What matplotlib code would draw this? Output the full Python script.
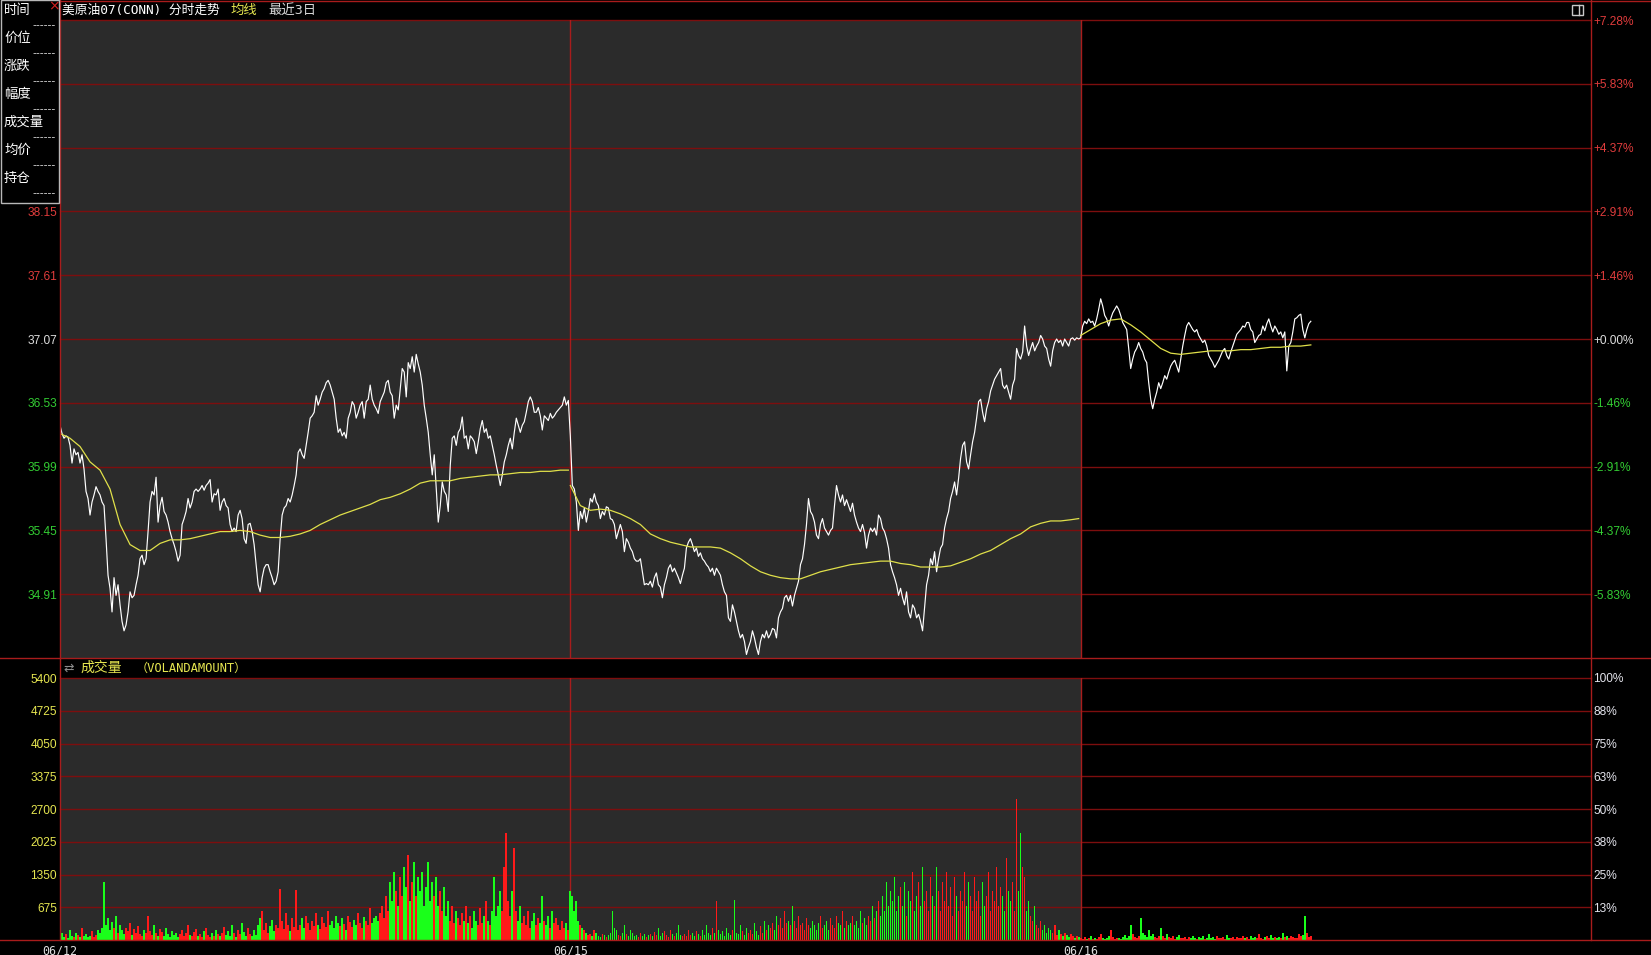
import numpy as np
import matplotlib
matplotlib.use('Agg')
import matplotlib.pyplot as plt
from matplotlib.patches import Rectangle

# ---------------- data ----------------
DATES = ['06/12', '06/15', '06/16']
INFO_LABELS = ['时间', '价位', '涨跌', '幅度', '成交量', '均价', '持仓']
TITLE_MAIN = '美原油07(CONN) 分时走势'
TITLE_AVG = '均线'
TITLE_RANGE = '最近3日'
VOL_TITLE = '成交量'
VOL_SUB = '（VOLANDAMOUNT）'

BASE_PRICE = 37.07
PRICE_LEVELS = [39.77, 39.23, 38.69, 38.15, 37.61, 37.07, 36.53, 35.99, 35.45, 34.91, 34.37]
PRICE_LEFT_LABELS = ['38.15', '37.61', '37.07', '36.53', '35.99', '35.45', '34.91']
PCT_LABELS = ['+7.28%', '+5.83%', '+4.37%', '+2.91%', '+1.46%', '+0.00%',
              '-1.46%', '-2.91%', '-4.37%', '-5.83%']
VOL_LEVELS = [675, 1350, 2025, 2700, 3375, 4050, 4725, 5400]
VOL_PCT_LABELS = ['13%', '25%', '38%', '50%', '63%', '75%', '88%', '100%']

PRICE_D1 = [
    36.34, 36.27, 36.23, 36.25, 36.24, 36.17, 36.02, 36.14, 36.09, 36.11,
    36.02, 36.09, 35.97, 35.78, 35.72, 35.58, 35.69, 35.75, 35.82, 35.78,
    35.75, 35.69, 35.66, 35.38, 35.07, 34.96, 34.76, 35.05, 34.90, 34.99,
    34.82, 34.68, 34.60, 34.65, 34.76, 34.93, 34.88, 34.90, 34.99, 35.07,
    35.21, 35.24, 35.16, 35.21, 35.44, 35.69, 35.78, 35.75, 35.90, 35.52,
    35.66, 35.73, 35.61, 35.58, 35.52, 35.44, 35.38, 35.33, 35.27, 35.19,
    35.24, 35.50, 35.55, 35.61, 35.72, 35.64, 35.69, 35.78, 35.80, 35.78,
    35.80, 35.83, 35.79, 35.83, 35.85, 35.88, 35.69, 35.76, 35.75, 35.80,
    35.62, 35.69, 35.72, 35.66, 35.64, 35.50, 35.44, 35.47, 35.44, 35.58,
    35.62, 35.55, 35.38, 35.34, 35.50, 35.51, 35.44, 35.33, 35.16, 34.99,
    34.93, 35.05, 35.13, 35.16, 35.16, 35.10, 35.05, 34.99, 35.02, 35.10,
    35.38, 35.58, 35.64, 35.66, 35.72, 35.69, 35.75, 35.83, 35.92, 36.11,
    36.14, 36.09, 36.06, 36.17, 36.28, 36.40, 36.42, 36.45, 36.59, 36.51,
    36.56, 36.62, 36.65, 36.70, 36.72, 36.68, 36.62, 36.56, 36.40, 36.28,
    36.31, 36.25, 36.28, 36.23, 36.40, 36.45, 36.54, 36.51, 36.40, 36.45,
    36.51, 36.54, 36.40, 36.54, 36.56, 36.68, 36.56, 36.51, 36.48, 36.44,
    36.54, 36.58, 36.62, 36.70, 36.72, 36.62, 36.59, 36.40, 36.51, 36.47,
    36.65, 36.82, 36.79, 36.58, 36.87, 36.82, 36.92, 36.79, 36.94, 36.86,
    36.79, 36.68, 36.51, 36.40, 36.28, 36.09, 35.92, 36.09, 35.80, 35.52,
    35.66, 35.86, 35.78, 35.75, 35.61, 36.00, 36.23, 36.25, 36.17, 36.28,
    36.31, 36.41, 36.23, 36.25, 36.14, 36.25, 36.23, 36.20, 36.10, 36.20,
    36.31, 36.38, 36.28, 36.31, 36.23, 36.25, 36.17, 36.09, 36.00, 35.92,
    35.83, 35.92, 36.03, 36.09, 36.17, 36.23, 36.14, 36.28, 36.40, 36.34,
    36.28, 36.34, 36.37, 36.45, 36.54, 36.58, 36.54, 36.45, 36.45, 36.49,
    36.42, 36.30, 36.42, 36.40, 36.38, 36.44, 36.40, 36.42, 36.45, 36.47,
    36.49, 36.51, 36.58, 36.51, 36.55]

PRICE_D2 = [
    36.25, 35.83, 35.80, 35.69, 35.45, 35.61, 35.55, 35.64, 35.52, 35.61,
    35.72, 35.69, 35.76, 35.69, 35.66, 35.55, 35.61, 35.58, 35.65, 35.64,
    35.55, 35.54, 35.50, 35.38, 35.44, 35.50, 35.44, 35.27, 35.38, 35.35,
    35.30, 35.27, 35.21, 35.19, 35.19, 35.21, 35.10, 34.99, 35.00, 34.99,
    35.02, 34.97, 35.05, 35.09, 34.99, 34.97, 34.88, 34.99, 35.05, 35.13,
    35.16, 35.10, 35.13, 35.09, 35.05, 35.00, 35.07, 35.13, 35.30, 35.35,
    35.38, 35.33, 35.27, 35.30, 35.23, 35.26, 35.21, 35.19, 35.16, 35.14,
    35.10, 35.13, 35.07, 35.13, 35.10, 35.07, 34.99, 34.93, 34.90, 34.71,
    34.68, 34.82, 34.76, 34.68, 34.60, 34.54, 34.57, 34.51, 34.40, 34.46,
    34.51, 34.60, 34.54, 34.46, 34.40, 34.51, 34.57, 34.54, 34.60, 34.54,
    34.57, 34.62, 34.61, 34.54, 34.71, 34.76, 34.79, 34.88, 34.90, 34.85,
    34.90, 34.81, 34.90, 34.96, 35.02, 35.16, 35.21, 35.33, 35.50, 35.72,
    35.61, 35.58, 35.52, 35.41, 35.38, 35.50, 35.55, 35.47, 35.44, 35.41,
    35.45, 35.47, 35.66, 35.83, 35.75, 35.69, 35.75, 35.66, 35.71, 35.66,
    35.61, 35.68, 35.58, 35.52, 35.47, 35.44, 35.50, 35.43, 35.30, 35.41,
    35.47, 35.44, 35.47, 35.41, 35.58, 35.55, 35.47, 35.44, 35.38, 35.30,
    35.16, 35.10, 35.05, 34.99, 34.90, 34.96, 34.88, 34.82, 34.93, 34.76,
    34.71, 34.82, 34.79, 34.71, 34.74, 34.68, 34.60, 34.79, 34.99, 35.07,
    35.21, 35.16, 35.27, 35.10, 35.21, 35.30, 35.33, 35.47, 35.55, 35.61,
    35.72, 35.78, 35.86, 35.75, 35.89, 36.06, 36.17, 36.20, 36.03, 35.97,
    36.09, 36.20, 36.28, 36.40, 36.54, 36.56, 36.45, 36.37, 36.48, 36.54,
    36.63, 36.68, 36.73, 36.76, 36.79, 36.82, 36.68, 36.65, 36.68, 36.62,
    36.56, 36.68, 36.73, 36.99, 36.93, 36.90, 36.96, 37.18, 37.01, 36.93,
    36.99, 37.04, 36.97, 37.01, 37.04, 37.10, 37.07, 37.01, 36.99, 36.90,
    36.84, 36.97, 37.04, 37.07, 37.04, 37.06, 37.01, 37.07, 37.04, 37.01,
    37.07, 37.08, 37.06, 37.08, 37.07]

PRICE_D3 = [
    37.08, 37.18, 37.22, 37.20, 37.24, 37.21, 37.22, 37.18, 37.24, 37.32,
    37.41, 37.35, 37.27, 37.24, 37.18, 37.24, 37.29, 37.32, 37.35, 37.32,
    37.27, 37.21, 37.18, 37.15, 36.99, 36.82, 36.90, 36.96, 36.99, 37.04,
    36.99, 36.96, 36.90, 36.87, 36.70, 36.56, 36.48, 36.56, 36.62, 36.70,
    36.65, 36.70, 36.76, 36.73, 36.79, 36.84, 36.87, 36.89, 36.84, 36.79,
    36.90, 37.01, 37.10, 37.18, 37.21, 37.18, 37.15, 37.13, 37.15, 37.10,
    37.07, 37.04, 37.06, 37.01, 36.93, 36.90, 36.87, 36.83, 36.86, 36.89,
    36.93, 36.97, 36.99, 36.93, 36.90, 36.96, 37.01, 37.06, 37.11, 37.13,
    37.15, 37.18, 37.17, 37.21, 37.21, 37.15, 37.13, 37.04, 37.07, 37.10,
    37.11, 37.18, 37.14, 37.20, 37.24, 37.18, 37.13, 37.18, 37.15, 37.11,
    37.13, 37.08, 37.13, 36.80, 37.01, 37.04, 37.13, 37.24, 37.25, 37.27,
    37.28, 37.15, 37.08, 37.15, 37.20, 37.22]

# average price line, sampled every 5 points (last sample at the day's last point)
AVG_STEP = 5
AVG_D1 = [
    36.27, 36.23, 36.16, 36.03, 35.96, 35.80, 35.50, 35.33, 35.28, 35.28,
    35.34, 35.37, 35.37, 35.38, 35.40, 35.42, 35.44, 35.44, 35.45, 35.44,
    35.41, 35.39, 35.39, 35.40, 35.42, 35.45, 35.50, 35.54, 35.58, 35.61,
    35.64, 35.67, 35.71, 35.73, 35.76, 35.80, 35.85, 35.87, 35.87, 35.87,
    35.89, 35.90, 35.91, 35.92, 35.92, 35.93, 35.94, 35.94, 35.95, 35.95,
    35.96, 35.96]
AVG_D2 = [
    35.83, 35.66, 35.62, 35.63, 35.62, 35.59, 35.55, 35.50, 35.42, 35.38,
    35.35, 35.33, 35.31, 35.31, 35.31, 35.30, 35.26, 35.21, 35.15, 35.10,
    35.07, 35.05, 35.04, 35.04, 35.07, 35.10, 35.12, 35.14, 35.16, 35.17,
    35.18, 35.19, 35.19, 35.17, 35.16, 35.14, 35.14, 35.14, 35.15, 35.18,
    35.21, 35.25, 35.28, 35.33, 35.38, 35.42, 35.48, 35.51, 35.53, 35.53,
    35.54, 35.55]
AVG_D3 = [
    37.10, 37.15, 37.20, 37.23, 37.24, 37.19, 37.13, 37.06, 36.99, 36.95,
    36.94, 36.95, 36.96, 36.97, 36.97, 36.97, 36.98, 36.98, 36.99, 37.00,
    37.00, 37.01, 37.01, 37.02]

VOL_D1 = [
    80, 150, 60, 120, 40, 200, 90, 60, 150, 100, 70, 250, 80, 130, 60, 90, 180, 70, 110, 200,
    150, 250, 1200, 300, 450, 200, 380, 250, 500, 150, 300, 200, 120, 250, 180, 350, 100, 220, 150, 280,
    120, 90, 200, 150, 500, 180, 100, 300, 140, 80, 220, 160, 90, 250, 130, 70, 180, 100, 150, 60,
    120, 200, 90, 140, 300, 110, 80, 160, 220, 90, 130, 70, 180, 250, 100, 60, 150, 90, 200, 120,
    80, 140, 260, 100, 180, 90, 300, 150, 70, 200, 120, 350, 160, 90, 250, 130, 80, 200, 110, 300,
    450, 600, 200, 350, 150, 280, 420, 180, 300, 250, 1050, 400, 220, 550, 300, 180, 450, 260, 1040, 200,
    300, 450, 250, 500, 350, 200, 400, 280, 550, 300, 220, 480, 350, 260, 600, 300, 400, 250, 500, 350,
    280, 450, 320, 200, 500, 380, 260, 420, 300, 550, 350, 250, 480, 400, 300, 650, 350, 450, 500, 400,
    550, 700, 450, 900, 600, 1200, 800, 1400, 1000, 700, 1300, 900, 1500, 1100, 1750, 800, 1200, 1600, 900, 1300,
    1000, 1400, 700, 1100, 1600, 800, 1200, 900, 1300, 700, 1000, 600, 1100, 500, 800, 400, 700, 350, 600, 450,
    300, 550, 400, 700, 350, 500, 250, 600, 400, 300, 650, 350, 500, 800, 400, 300, 600, 1300, 500, 700,
    1000, 600, 1500, 2200, 800, 500, 1000, 1900, 600, 400, 700, 350, 500, 300, 600, 250, 400, 550, 300, 450,
    350, 900, 400, 300, 500, 250, 600, 350, 450, 300, 200, 400, 250, 350, 200]

VOL_D2 = [
    1000, 900, 600, 800, 400, 300, 250, 200, 150, 100, 120, 80, 200, 150, 90, 60, 130, 100, 70, 110,
    150, 600, 250, 200, 100, 80, 150, 300, 120, 90, 200, 140, 80, 110, 60, 150, 90, 130, 70, 100,
    120, 80, 160, 100, 250, 90, 140, 180, 100, 70, 200, 120, 90, 150, 300, 110, 80, 130, 90, 200,
    100, 150, 80, 180, 120, 90, 200, 110, 300, 150, 100, 250, 140, 800, 200, 120, 180, 90, 250, 150,
    100, 200, 830, 150, 120, 300, 180, 100, 250, 150, 200, 120, 350, 180, 100, 280, 150, 400, 200, 300,
    250, 350, 200, 500, 300, 450, 250, 600, 350, 400, 300, 700, 400, 250, 500, 300, 350, 200, 450, 300,
    250, 400, 300, 200, 350, 500, 250, 300, 400, 200, 450, 300, 250, 500, 350, 300, 600, 250, 400, 300,
    350, 500, 300, 400, 250, 600, 350, 450, 300, 500, 400, 700, 450, 600, 800, 500, 900, 600, 1200, 700,
    1000, 800, 1300, 600, 900, 1100, 700, 1200, 500, 1000, 800, 1400, 600, 900, 1200, 700, 1500, 800, 1000, 600,
    1300, 900, 700, 1500, 1000, 600, 1200, 800, 1400, 700, 1100, 500, 1300, 900, 600, 1000, 800, 1400, 700, 1200,
    900, 600, 1300, 800, 1000, 500, 1200, 700, 900, 1400, 600, 1000, 800, 1500, 700, 1100, 900, 600, 1700, 1000,
    800, 1200, 600, 2900, 1000, 2200, 1500, 1300, 600, 800, 500, 400, 700, 300, 250, 400, 200, 300, 150, 250,
    200, 150, 300, 100, 200, 120, 80, 150, 100, 60, 120, 90, 50, 80, 60]

VOL_D3 = [
    40, 30, 60, 20, 50, 80, 30, 40, 25, 60, 120, 40, 30, 50, 80, 200, 60, 30, 50, 40,
    30, 60, 100, 40, 80, 300, 120, 60, 40, 80, 450, 150, 100, 60, 200, 80, 120, 60, 40, 90,
    250, 80, 50, 120, 60, 40, 80, 30, 60, 100, 50, 40, 70, 30, 60, 40, 90, 50, 30, 60,
    40, 80, 30, 50, 120, 40, 60, 30, 80, 50, 40, 60, 30, 100, 50, 40, 70, 30, 60, 40,
    50, 80, 40, 60, 30, 90, 40, 60, 50, 120, 40, 30, 60, 80, 40, 100, 50, 60, 40, 70,
    50, 150, 60, 90, 40, 80, 60, 50, 40, 120, 80, 100, 500, 150, 60, 80]

# ---------------- style ----------------
W, H = 1651, 955
SLOTS = 255
BG_GRAY = '#2b2b2b'
GRID_RED = '#7d0e0e'
AXIS_RED = '#a81c1c'
UP_RED = '#e03c3c'
DOWN_GREEN = '#33cc33'
FLAT_WHITE = '#dedede'
YELLOW = '#e0e04a'
BAR_RED = '#ff1a1a'
BAR_GREEN = '#1aff1a'
CJK = ['Noto Sans CJK SC', 'DejaVu Sans']
MONO_CJK = ['DejaVu Sans Mono', 'Noto Sans CJK SC']

plt.rcParams['font.family'] = ['Liberation Sans', 'Noto Sans CJK SC', 'DejaVu Sans']

fig = plt.figure(figsize=(W / 100, H / 100), dpi=100, facecolor='black')


def rect(l, t, r, b):
    return [l / W, 1 - b / H, (r - l) / W, (b - t) / H]


ax_p = fig.add_axes(rect(60, 20, 1591, 658))
ax_v = fig.add_axes(rect(60, 678, 1591, 940))

days = [(PRICE_D1, AVG_D1, VOL_D1, True),
        (PRICE_D2, AVG_D2, VOL_D2, True),
        (PRICE_D3, AVG_D3, VOL_D3, False)]

xs_all, ps_all, vs_all = [], [], []
avg_sets = []
for d, (pr, av, vo, full) in enumerate(days):
    n = min(len(pr), len(vo))
    step = SLOTS / len(pr) if full else 1.0
    x = d * SLOTS + np.arange(n) * step
    xs_all.append(x)
    ps_all.append(np.asarray(pr[:n], float))
    vs_all.append(np.asarray(vo[:n], float))
    aidx = np.minimum(np.arange(len(av)) * AVG_STEP, len(pr) - 1)
    avg_sets.append((d * SLOTS + aidx * step, np.asarray(av, float)))

x_all = np.concatenate(xs_all)
p_all = np.concatenate(ps_all)
v_all = np.concatenate(vs_all)
diff = np.diff(p_all, prepend=p_all[0])
bar_colors = [BAR_RED if dv >= 0 else BAR_GREEN for dv in diff]

# ---------- price panel ----------
ax_p.set_facecolor('black')
ax_p.set_xlim(0, 3 * SLOTS)
ax_p.set_ylim(PRICE_LEVELS[-1], PRICE_LEVELS[0])
ax_p.axvspan(0, 2 * SLOTS, color=BG_GRAY, lw=0, zorder=0)
for lv in PRICE_LEVELS[:-1]:
    ax_p.axhline(lv, color=GRID_RED, lw=1.0, zorder=1, clip_on=False)
for xv in (SLOTS, 2 * SLOTS):
    ax_p.axvline(xv, color=AXIS_RED, lw=1.0, zorder=1)
ax_p.plot(x_all, p_all, color='white', lw=0.85, zorder=4)
for ax_x, av in avg_sets:
    ax_p.plot(ax_x, av, color=YELLOW, lw=0.9, zorder=5)

for s in ax_p.spines.values():
    s.set_visible(False)
ax_p.set_xticks([])


def lvl_color(v):
    if abs(v - BASE_PRICE) < 1e-6:
        return FLAT_WHITE
    return UP_RED if v > BASE_PRICE else DOWN_GREEN


left_levels = [float(t) for t in PRICE_LEFT_LABELS]
ax_p.set_yticks(left_levels)
ax_p.set_yticklabels(PRICE_LEFT_LABELS)
ax_p.tick_params(axis='y', length=0, pad=2.2, labelsize=8.6)
for lbl, v in zip(ax_p.get_yticklabels(), left_levels):
    lbl.set_color(lvl_color(v))

ax_pr = ax_p.twinx()
ax_pr.set_ylim(ax_p.get_ylim())
ax_pr.set_yticks(PRICE_LEVELS[:len(PCT_LABELS)])
ax_pr.set_yticklabels(PCT_LABELS)
ax_pr.tick_params(axis='y', length=0, pad=1.5, labelsize=8.6)
for lbl, v in zip(ax_pr.get_yticklabels(), PRICE_LEVELS):
    lbl.set_color(lvl_color(v))
for s in ax_pr.spines.values():
    s.set_visible(False)

# ---------- volume panel ----------
ax_v.set_facecolor('black')
ax_v.set_xlim(0, 3 * SLOTS)
ax_v.set_ylim(0, VOL_LEVELS[-1])
ax_v.axvspan(0, 2 * SLOTS, color=BG_GRAY, lw=0, zorder=0)
for lv in VOL_LEVELS:
    ax_v.axhline(lv, color=GRID_RED, lw=1.0, zorder=1, clip_on=False)
for xv in (SLOTS, 2 * SLOTS):
    ax_v.axvline(xv, color=AXIS_RED, lw=1.0, zorder=1)
ax_v.bar(x_all, v_all, width=0.85, color=bar_colors, lw=0, zorder=3)
for s in ax_v.spines.values():
    s.set_visible(False)

ax_v.set_yticks(VOL_LEVELS)
ax_v.set_yticklabels([str(v) for v in VOL_LEVELS])
ax_v.tick_params(axis='y', length=0, pad=2.2, labelsize=8.6, labelcolor='#e6e650')
ax_v.set_xticks([0, SLOTS, 2 * SLOTS])
ax_v.set_xticklabels(DATES)
ax_v.tick_params(axis='x', length=0, pad=3.0, labelsize=8.4, labelcolor='#e0e0e0')
for lbl in ax_v.get_xticklabels():
    lbl.set_family('DejaVu Sans Mono')

ax_vr = ax_v.twinx()
ax_vr.set_ylim(ax_v.get_ylim())
ax_vr.set_yticks(VOL_LEVELS)
ax_vr.set_yticklabels(VOL_PCT_LABELS)
ax_vr.tick_params(axis='y', length=0, pad=1.5, labelsize=8.6, labelcolor='#e4e4ec')
for s in ax_vr.spines.values():
    s.set_visible(False)

# ---------- overlay (pixel coordinates) ----------
ov = fig.add_axes([0, 0, 1, 1])
ov.set_xlim(0, W)
ov.set_ylim(H, 0)
ov.axis('off')
ov.patch.set_alpha(0)

# frame lines
ov.plot([60, W], [0.8, 0.8], color=AXIS_RED, lw=1.0)
ov.plot([0, W], [658, 658], color=AXIS_RED, lw=1.0)
ov.plot([0, W], [940, 940], color=AXIS_RED, lw=1.0)
ov.plot([60, 60], [0, 940], color=AXIS_RED, lw=1.0)
ov.plot([1591, 1591], [0, 940], color=AXIS_RED, lw=1.0)

# info box
ov.add_patch(Rectangle((0.5, 0.5), 58.8, 202.2, facecolor='black',
                       edgecolor='#b8b8b8', lw=1.0, zorder=5))
label_y = [10, 38, 66, 94, 122, 150, 178]
for lab, y in zip(INFO_LABELS, label_y):
    ov.text(4, y, lab, color='white', fontsize=9.6, family=CJK,
            ha='left', va='center', zorder=6)
    ov.text(56, y + 15, '------', color='#d8d8d8', fontsize=7.8,
            family='DejaVu Sans', ha='right', va='center', zorder=6)
ov.text(54, 6.5, '×', color='#d02020', fontsize=10, family='DejaVu Sans',
        ha='center', va='center', zorder=7)

# title
ov.text(62, 10, TITLE_MAIN, color='white', fontsize=9.2, family=MONO_CJK,
        ha='left', va='center')
ov.text(230, 10, TITLE_AVG, color='#e6e650', fontsize=9.6, family=CJK,
        ha='left', va='center')
ov.text(268, 10, TITLE_RANGE, color='#d6d6d6', fontsize=9.6, family=MONO_CJK,
        ha='left', va='center')

# top-right icon
ov.add_patch(Rectangle((1571.5, 5.5), 11, 10, facecolor='none',
                       edgecolor='#c8c8c8', lw=1.0))
ov.plot([1579, 1579], [5.5, 15.5], color='#c8c8c8', lw=1.0)

# volume header
ov.text(63, 668, '⇄', color='#8c8c8c', fontsize=9, family='DejaVu Sans',
        ha='left', va='center')
ov.text(80, 668, VOL_TITLE, color='#e6e650', fontsize=10.0, family=CJK,
        ha='left', va='center')
ov.text(136, 668, VOL_SUB, color='#e6e650', fontsize=8.7, family=MONO_CJK,
        ha='left', va='center')

fig.savefig('out.png', dpi=100, facecolor='black')
